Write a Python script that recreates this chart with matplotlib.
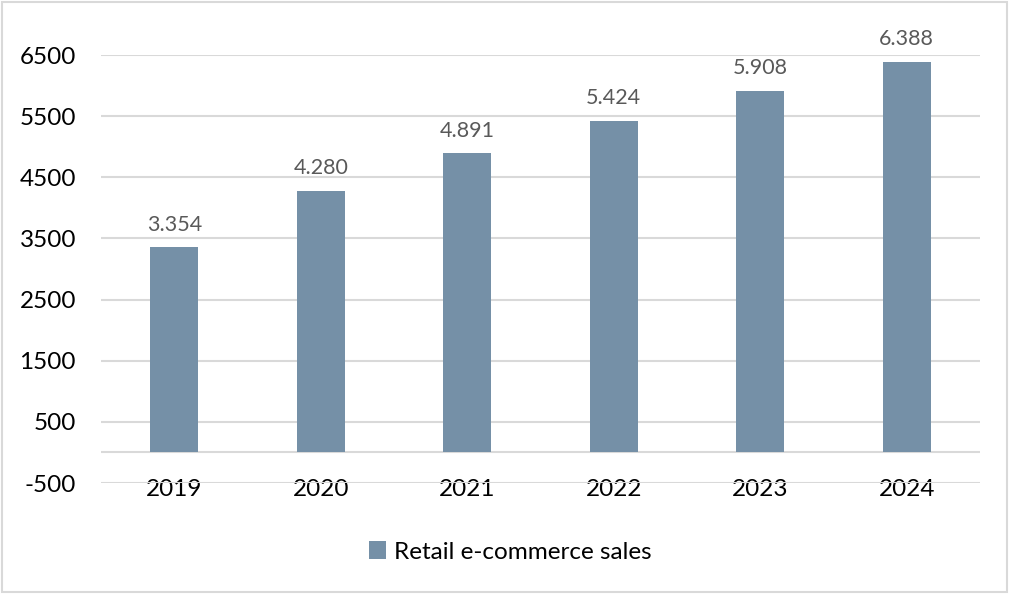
import matplotlib.pyplot as plt
from matplotlib.patches import Rectangle

years = ["2019", "2020", "2021", "2022", "2023", "2024"]
sales = [3354, 4280, 4891, 5424, 5908, 6388]
y_ticks = [-500, 500, 1500, 2500, 3500, 4500, 5500, 6500]

bar_color = "#7590a7"
grid_color = "#d9d9d9"

plt.rcParams['font.family'] = ['Lato', 'DejaVu Sans']

fig = plt.figure(figsize=(10.09, 5.94), dpi=100)
ax = fig.add_axes([101 / 1009, 111 / 594, 879 / 1009, 428 / 594])

x = range(len(years))
bars = ax.bar(x, sales, width=0.33, color=bar_color, zorder=3, label="Retail e-commerce sales")

# value labels with a dot as thousands separator
for rect, v in zip(bars, sales):
    ax.text(rect.get_x() + rect.get_width() / 2, v + 210, f"{v:,}".replace(",", "."),
            ha="center", va="bottom", fontsize=15.5, color="#595959")

ax.set_xlim(-0.5, len(years) - 0.5)
ax.set_ylim(-500, 6500)
ax.set_yticks(y_ticks)
ax.set_yticklabels([str(t) for t in y_ticks], fontsize=17.5)
ax.set_xticks(list(x))
ax.set_xticklabels(years, fontsize=17.5)
ax.tick_params(axis="both", length=0, colors="black")
ax.tick_params(axis="y", pad=18)
ax.tick_params(axis="x", pad=-3)

ax.grid(axis="y", color=grid_color, linewidth=1.5, zorder=0)
ax.axhline(0, color=grid_color, linewidth=1.5, zorder=1)
for s in ax.spines.values():
    s.set_visible(False)

leg = fig.legend(handles=[bars], labels=["Retail e-commerce sales"], loc="center",
                 bbox_to_anchor=(510 / 1009, 1 - 552 / 594), frameon=False, fontsize=17.5,
                 handlelength=0.72, handleheight=0.72, handletextpad=0.3)

# light outline around the whole figure
fig.patches.append(Rectangle((0.002, 0.003), 0.996, 0.994, transform=fig.transFigure,
                             fill=False, edgecolor="#d9d9d9", linewidth=1.5))

fig.savefig("out.png", dpi=100)
